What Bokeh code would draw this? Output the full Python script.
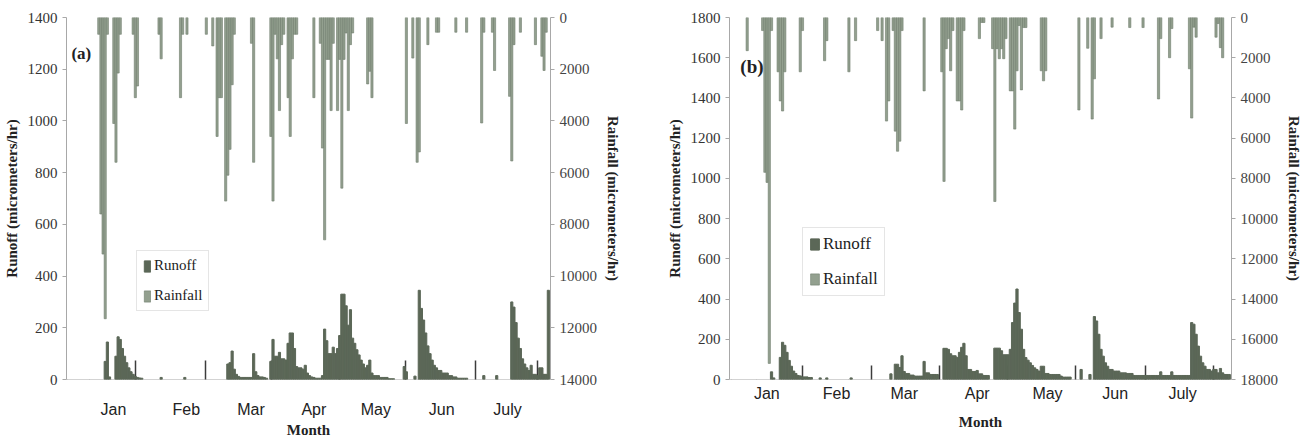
from bokeh.plotting import figure
from bokeh.models import (Range1d, LinearAxis, FixedTicker, Legend, LegendItem,
                          Label, CustomJSTickFormatter)
from bokeh.layouts import row
from bokeh.embed import file_html
from bokeh.resources import INLINE

# ---------------- data ----------------
months = ["Jan", "Feb", "Mar", "Apr", "May", "Jun", "July"]

# Panel (a)  (x = day index of the record)
runoff_a_day = [18, 19, 20,
                23, 24, 25, 26, 27, 28, 29, 30, 31, 32, 33, 34, 35,
                44, 55,
                75, 76, 77, 78, 79, 80, 81, 82, 83, 84, 85, 86, 87, 88, 89, 90, 91, 92, 93,
                95, 96, 97, 98, 99, 100, 101, 102, 103, 104, 105, 106, 107, 108, 109, 110,
                111, 112, 113, 114, 115, 116, 117, 118,
                119, 120, 121, 122, 123, 124, 125, 126, 127, 128, 129, 130, 131, 132, 133,
                134, 135, 136, 137, 138, 139, 140, 141, 142, 143, 144, 145, 146, 147, 148,
                149, 150, 151, 152,
                157, 158, 162,
                164, 165, 166, 167, 168, 169, 170, 171, 172, 173, 174, 175, 176, 177, 178,
                179, 180, 181, 182, 183, 184, 185, 186,
                194, 200,
                207, 208, 209, 210, 211, 212, 213, 214, 215, 216, 217, 218, 219, 220, 221,
                222, 223, 224]
runoff_a_val = [70, 145, 10,
                90, 165, 155, 120, 90, 65, 45, 30, 20, 12, 8, 6, 5,
                8, 8,
                60, 65, 110, 40, 20, 12, 8, 8, 8, 8, 8, 8, 100, 30, 15, 10, 10, 8, 5,
                70, 155, 90, 90, 105, 80, 80, 75, 140, 180, 180, 120, 50, 45, 45, 40,
                55, 25, 15, 10, 8, 5, 5, 5,
                15, 195, 150, 100, 100, 125, 100, 120, 170, 330, 330, 285, 210, 270, 160,
                140, 115, 95, 75, 60, 45, 55, 75, 25, 15, 15, 15, 8, 8, 8,
                8, 3, 3, 3,
                50, 30, 13,
                345, 275, 230, 180, 130, 100, 75, 55, 45, 35, 35, 25, 25, 25, 15,
                15, 10, 10, 5, 5, 5, 5, 5,
                15, 15,
                300, 280, 220, 160, 120, 80, 60, 45, 35, 55, 20, 20, 15, 45, 45,
                20, 20, 345]

rain_a_day = [15, 16, 17, 18, 19,
              22, 23, 24, 25,
              31, 32, 33,
              43, 44,
              53, 54, 56,
              65, 68, 70, 71, 72,
              74, 75, 76, 77, 78,
              86, 87,
              95, 96, 97, 98, 99, 100, 101,
              103, 104, 105, 106, 107,
              115,
              118, 119, 120, 121, 122, 123, 124,
              126, 127, 128, 129, 130, 131, 132, 133,
              140, 141, 142,
              158, 161, 163, 164, 168,
              172, 173, 181, 186,
              193, 194, 198, 199,
              206, 207, 208, 211,
              218, 221, 222, 223]
rain_a_val = [650, 7600, 9150, 11650, 650,
              4100, 5600, 2150, 650,
              650, 3100, 2650,
              650, 1600,
              3100, 650, 650,
              650, 1100, 4600, 3100, 3100,
              7100, 6100, 5100, 2600, 650,
              1000, 5600,
              4600, 7100, 650, 1600, 3600, 1050, 650,
              3100, 4600, 1600, 650, 650,
              3100,
              1000, 5050, 8600, 1620, 1620, 3600, 1000,
              3600, 1620, 6600, 1620, 600, 3600, 1050, 600,
              2570, 2080, 3100,
              4100, 1570, 5600, 5200, 1050,
              570, 570, 570, 570,
              4080, 570, 570, 2050,
              3050, 5550, 1050, 570,
              1050, 1500, 2050, 570]

# Panel (b)
runoff_b_day = [19, 20,
                23, 24, 25, 26, 27, 28, 29, 30, 31, 32, 33, 34, 35, 36, 37,
                41, 44, 55,
                73,
                75, 76, 77, 78, 79, 80, 81, 82, 83, 84, 85, 86, 87, 88, 89, 90, 91, 92, 93, 94,
                97, 98, 99, 100, 101, 102, 103, 104, 105, 106, 107, 108, 109, 110, 111, 112,
                113, 114, 115, 116, 117,
                120, 121, 122, 123, 124, 125, 126, 127, 128, 129, 130, 131, 132, 133, 134,
                135, 136, 137, 138, 139, 140, 141, 142, 143, 144, 145, 146, 147, 148, 149,
                150, 151, 152, 153, 154,
                159, 163,
                165, 166, 167, 168, 169, 170, 171, 172, 173, 174, 175, 176, 177, 178, 179,
                180, 181, 182, 183, 184, 185, 186, 187, 188, 189, 190, 191, 192, 193, 194,
                195, 196, 197, 198, 199, 200, 201, 202, 203, 204, 205, 206, 207, 208,
                209, 210, 211, 212, 213, 214, 215, 216, 217, 218, 219, 220, 221, 222, 223,
                224, 225, 226]
runoff_b_val = [38, 8,
                110, 185, 170, 135, 95, 66, 42, 30, 20, 18, 13, 13, 13, 10, 10,
                8, 8, 8,
                28,
                76, 76, 60, 118, 40, 30, 30, 22, 22, 17, 17, 17, 17, 90, 33, 33, 25, 25, 25, 25,
                155, 155, 150, 128, 118, 118, 110, 135, 160, 180, 118, 50, 50, 40, 40, 45,
                28, 28, 20, 20, 20,
                156, 156, 156, 143, 123, 123, 123, 150, 283, 380, 450, 333, 250, 150, 109,
                96, 83, 70, 58, 50, 42, 66, 66, 30, 30, 25, 25, 25, 25, 25,
                17, 12, 12, 12, 12,
                50, 25,
                313, 291, 225, 150, 116, 83, 66, 50, 50, 42, 42, 42, 33, 33, 33,
                30, 30, 30, 20, 20, 20, 20, 20, 20, 20, 20, 20, 20, 20, 20,
                38, 20, 20, 20, 20, 38, 20, 20, 20, 20, 20, 20, 20, 20,
                283, 275, 225, 166, 116, 83, 66, 50, 50, 42, 50, 50, 33, 55, 33,
                25, 25, 25]

rain_b_day = [8,
              15, 16, 17, 18, 19,
              22, 23, 24, 25,
              32, 33,
              43, 44,
              54, 57,
              67, 69, 71, 72,
              74, 75, 76, 77, 78,
              88,
              96, 97, 98, 99, 100, 101,
              103, 104, 105, 106,
              113, 114, 115,
              119, 120, 121, 122, 123, 124, 125,
              127, 128, 129, 130, 131, 132, 133, 134,
              141, 142, 143,
              158, 162, 164, 165, 168, 173, 181, 187,
              194, 195, 199, 200,
              208, 209, 210, 211,
              220, 221, 222, 223]
rain_b_val = [1650,
              650, 7700, 8200, 17200, 650,
              2700, 4150, 4650, 2700,
              2700, 650,
              2150, 1150,
              2700, 1150,
              650, 1150, 5150, 4150,
              650, 5650, 6650, 6150, 650,
              3650,
              2700, 8150, 1550, 1050, 2650, 650,
              4150, 4150, 4600, 650,
              1050, 250, 250,
              1550, 9150, 1550, 2050, 1550, 2050, 1050,
              3650, 3650, 5550, 2650, 400, 3600, 500, 500,
              2650, 3150, 2650,
              4600, 1530, 5050, 3050, 1050, 480, 500, 500,
              4050, 1050, 2000, 550,
              2550, 5000, 480, 980,
              980, 300, 1500, 2000]

# axis ticks
runoff_ticks_a = [0, 200, 400, 600, 800, 1000, 1200, 1400]
rain_ticks_a = [0, 2000, 4000, 6000, 8000, 10000, 12000, 14000]
runoff_ticks_b = [0, 200, 400, 600, 800, 1000, 1200, 1400, 1600, 1800]
rain_ticks_b = [0, 2000, 4000, 6000, 8000, 10000, 12000, 14000, 16000, 18000]

month_pos_a = [21.8, 55.7, 85.8, 115.0, 143.8, 174.4, 205.0]
sep_a = [32.0, 64.5, 95.5, 127.0, 157.7, 190.2, 218.8]
minor_a = [0.5, 10.8, 20.9, 43.6, 54.1, 74.5, 85.0, 105.9, 116.7, 137.6, 147.6,
           168.4, 179.4, 200.8, 211.0, 221.7]

month_pos_b = [16.9, 48.4, 79.0, 112.0, 143.8, 174.4, 204.9]
sep_b = [32.9, 64.1, 94.8, 125.9, 156.6, 187.9, 218.9]
minor_b = [0.9, 12.0, 22.0, 43.1, 53.9, 74.6, 84.9, 106.0, 115.0, 136.6, 147.2,
           167.4, 178.0, 198.9, 209.4, 222.8]

# ---------------- style ----------------
RUNOFF = "#5b6757"
RAIN = "#93a08f"
RAIN_EDGE = "#6f7c6b"
AXIS = "#a8a8a8"
SERIF = "Liberation Serif"
SANS = "Liberation Sans"


def panel(tag, width, height, n_days, ymax, rmax, yticks, rticks, ro_day, ro_val, ra_day, ra_val,
          mpos, seps, minors, b_left, b_right, b_top, b_bottom, sep_in, sep_out,
          m_standoff, m_title_standoff, leg_loc, leg_font, glyph_w, leg_spacing,
          tag_xy, tag_size):
    p = figure(width=width, height=height, output_backend="svg", toolbar_location=None,
               x_range=Range1d(0, n_days), y_range=Range1d(0, ymax),
               x_axis_location=None, y_axis_location="left",
               min_border_left=b_left, min_border_right=b_right,
               min_border_top=b_top, min_border_bottom=b_bottom)
    p.outline_line_color = None
    p.xgrid.visible = False
    p.ygrid.visible = False
    p.background_fill_color = "white"
    p.border_fill_color = "white"
    p.extra_y_ranges = {"rain": Range1d(start=rmax, end=0)}

    rr = p.vbar(x=ra_day, top=0, bottom=ra_val, width=1.0, y_range_name="rain",
                fill_color=RAIN, line_color=RAIN_EDGE, line_width=0.6)
    ro = p.vbar(x=ro_day, top=ro_val, bottom=0, width=1.0,
                fill_color=RUNOFF, line_color=RUNOFF, line_width=1.0)

    # left axis
    ya = p.yaxis[0]
    ya.ticker = FixedTicker(ticks=yticks)
    ya.axis_label = "Runoff (micrometers/hr)"
    ya.axis_label_text_font = SERIF
    ya.axis_label_text_font_style = "bold"
    ya.axis_label_text_font_size = "15px"
    ya.axis_label_text_color = "#222222"
    ya.axis_label_standoff = 5
    ya.major_label_text_font = SERIF
    ya.major_label_text_font_size = "15px"
    ya.major_label_text_color = "#333333"
    ya.major_label_standoff = 5
    ya.axis_line_color = AXIS
    ya.major_tick_line_color = AXIS
    ya.major_tick_in = 0
    ya.major_tick_out = 4
    ya.minor_tick_out = 0
    ya.minor_tick_line_color = None

    # right axis (rainfall, inverted)
    ra = LinearAxis(y_range_name="rain", ticker=FixedTicker(ticks=rticks),
                    axis_label="Rainfall (micrometers/hr)")
    ra.axis_label_text_font = SERIF
    ra.axis_label_text_font_style = "bold"
    ra.axis_label_text_font_size = "15px"
    ra.axis_label_text_color = "#222222"
    ra.axis_label_standoff = 5
    ra.major_label_text_font = SERIF
    ra.major_label_text_font_size = "15px"
    ra.major_label_text_color = "#444444"
    ra.major_label_standoff = 5
    ra.axis_line_color = AXIS
    ra.major_tick_line_color = AXIS
    ra.major_tick_in = 0
    ra.major_tick_out = 4
    ra.minor_tick_out = 0
    ra.minor_tick_line_color = None
    p.add_layout(ra, "right")

    # bottom axis: month separators + small ticks
    xa = LinearAxis(ticker=FixedTicker(ticks=seps, minor_ticks=minors),
                    formatter=CustomJSTickFormatter(code="return ''"))
    xa.major_tick_in = sep_in
    xa.major_tick_out = sep_out
    xa.major_tick_line_color = "#3c3c3c"
    xa.major_tick_line_width = 1.5
    xa.minor_tick_in = 0
    xa.minor_tick_out = 5
    xa.minor_tick_line_color = AXIS
    xa.axis_line_color = AXIS
    xa.major_label_standoff = 0
    xa.major_label_text_font_size = "1px"
    xa.level = "underlay"
    p.add_layout(xa, "below")

    # bottom axis: month names
    xm = LinearAxis(ticker=FixedTicker(ticks=mpos),
                    major_label_overrides={m: t for m, t in zip(mpos, months)},
                    axis_label="Month")
    xm.axis_line_color = None
    xm.major_tick_line_color = None
    xm.minor_tick_line_color = None
    xm.major_tick_in = 0
    xm.major_tick_out = 0
    xm.minor_tick_out = 0
    xm.major_label_standoff = m_standoff
    xm.major_label_text_font = SANS
    xm.major_label_text_font_size = "16px"
    xm.major_label_text_color = "#222222"
    xm.axis_label_standoff = m_title_standoff
    xm.axis_label_text_font = SERIF
    xm.axis_label_text_font_style = "bold"
    xm.axis_label_text_font_size = "15px"
    xm.axis_label_text_color = "#222222"
    p.add_layout(xm, "below")

    leg = Legend(items=[LegendItem(label="Runoff", renderers=[ro]),
                        LegendItem(label="Rainfall", renderers=[rr])],
                 location=leg_loc)
    leg.label_text_font = SERIF
    leg.label_text_font_size = leg_font
    leg.label_text_color = "#222222"
    leg.glyph_width = glyph_w
    leg.glyph_height = 14
    leg.label_standoff = 3
    leg.padding = 6
    leg.spacing = leg_spacing
    leg.margin = 0
    leg.border_line_color = "#cccccc"
    leg.background_fill_alpha = 1.0
    p.add_layout(leg)

    p.add_layout(Label(x=tag_xy[0], y=tag_xy[1], text=tag, text_font=SERIF,
                       text_font_style="bold", text_font_size=tag_size,
                       text_baseline="middle", text_color="#222222"))
    return p


pa = panel("(a)", 632, 440, 225, 1400, 14000, runoff_ticks_a, rain_ticks_a,
           runoff_a_day, runoff_a_val, rain_a_day, rain_a_val,
           month_pos_a, sep_a, minor_a, 65, 82, 17, 59, 19, 14,
           7, 1, (70, 68), "15px", 8, 13, (2.3, 1261), "17px")
pb = panel("(b)", 673, 440, 227, 1800, 18000, runoff_ticks_b, rain_ticks_b,
           runoff_b_day, runoff_b_val, rain_b_day, rain_b_val,
           month_pos_b, sep_b, minor_b, 97, 71, 17, 59, 14, 17,
           -12, 9, (73, 83), "17px", 11, 15, (4.9, 1554), "19px")

layout = row(pa, pb, spacing=0)
open("out.html", "w").write(file_html(layout, INLINE))
